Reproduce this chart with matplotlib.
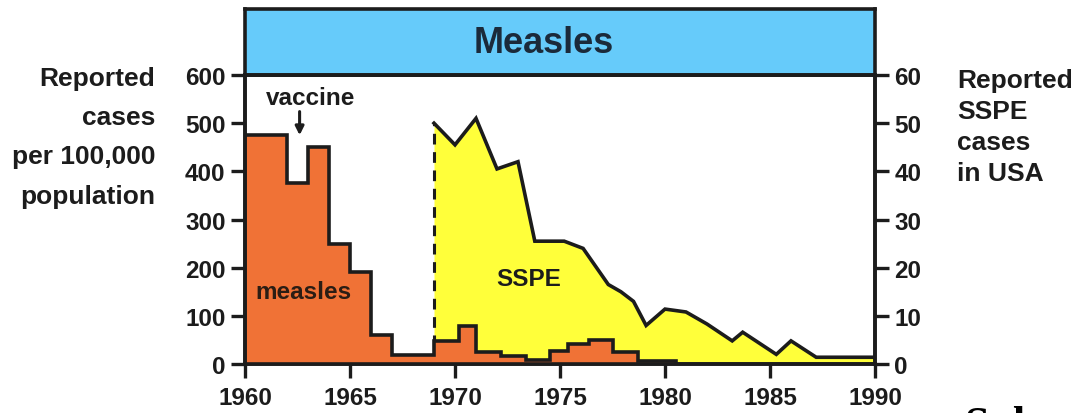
import matplotlib
matplotlib.use("Agg")
import matplotlib.pyplot as plt
import numpy as np

# ---- data ----
measles_edges = [1960, 1962, 1963, 1964, 1965, 1966, 1967, 1969, 1970.2, 1971,
                 1972.2, 1973.4, 1974.5, 1975.4, 1976.4, 1977.5, 1978.7, 1980.5]
measles_values = [475, 375, 450, 250, 192, 60, 18, 48, 78, 25,
                  17, 8, 26, 42, 50, 25, 7]

sspe_years = [1969, 1970, 1971, 1972, 1973, 1973.8, 1975.2, 1976.1, 1977.3, 1977.9,
              1978.5, 1979.1, 1980, 1981, 1982, 1983.2, 1983.7, 1985.3, 1986, 1987.2, 1990]
sspe_values = [50, 45.5, 51, 40.5, 42, 25.5, 25.5, 24, 16.5, 15,
               13, 8, 11.4, 10.8, 8.3, 4.8, 6.6, 2.0, 4.8, 1.4, 1.4]

left_ticks = [0, 100, 200, 300, 400, 500, 600]
right_ticks = [0, 10, 20, 30, 40, 50, 60]
year_ticks = [1960, 1965, 1970, 1975, 1980, 1985, 1990]

ORANGE = "#F07236"
YELLOW = "#FFFF3A"
BLUE = "#66CBFA"
DARK = "#1c1c1c"
FONT = ["Liberation Sans", "DejaVu Sans"]

plt.rcParams["font.family"] = FONT
plt.rcParams["font.weight"] = "bold"

W, H = 1076, 414
fig = plt.figure(figsize=(W / 100, H / 100), dpi=100)

x0, x1 = 245, 875
y_top, y_bot = 76, 365
ax = fig.add_axes([x0 / W, 1 - y_bot / H, (x1 - x0) / W, (y_bot - y_top) / H])
ax2 = ax.twinx()
ax.set_zorder(ax2.get_zorder() + 1)
ax.patch.set_visible(False)
ax2.patch.set_facecolor("white")

ax.set_xlim(1960, 1990)
ax.set_ylim(0, 600)
ax2.set_ylim(0, 60)

# SSPE area (right axis)
ax2.fill_between(sspe_years, sspe_values, 0, color=YELLOW, lw=0, zorder=1)
ax2.plot(sspe_years, sspe_values, color=DARK, lw=2.6, zorder=2, solid_joinstyle="miter")
ax2.plot([sspe_years[0], sspe_years[0]], [0, sspe_values[0]], color=DARK, lw=2.2,
         ls=(0, (3.5, 2.5)), zorder=2)

# measles stairs (left axis)
ax.stairs(measles_values, measles_edges, baseline=0, fill=True, color=ORANGE, zorder=2)
ax.stairs(measles_values, measles_edges, baseline=0, fill=False, color=DARK, lw=2.6, zorder=3)

# annotations
TS = 17.5
ax.text(1963.1, 553, "vaccine", ha="center", va="center", fontsize=TS, color=DARK)
ax.annotate("", xy=(1962.6, 475), xytext=(1962.6, 524),
            arrowprops=dict(arrowstyle="-|>,head_length=0.5,head_width=0.25",
                            color=DARK, lw=2.2, shrinkA=0, shrinkB=0))
ax.text(1962.8, 151, "measles", ha="center", va="center", fontsize=TS, color="#2b1d14")
ax2.text(1973.5, 17.8, "SSPE", ha="center", va="center", fontsize=TS, color=DARK)

# axes styling
for a in (ax, ax2):
    for s in a.spines.values():
        s.set_linewidth(2.6)
        s.set_color(DARK)
ax.set_xticks(year_ticks)
ax.set_xticklabels([str(y) for y in year_ticks])
ax.set_yticks(left_ticks)
ax.set_yticklabels([str(v) for v in left_ticks])
ax2.set_yticks(right_ticks)
ax2.set_yticklabels([str(v) for v in right_ticks])
ax.tick_params(axis="y", direction="out", length=10, width=2.4, color=DARK,
               labelsize=TS, labelcolor=DARK, pad=4)
ax.tick_params(axis="x", direction="out", length=10, width=2.4, color=DARK,
               labelsize=TS, labelcolor=DARK, pad=6)
ax2.tick_params(axis="y", direction="out", length=10, width=2.4, color=DARK,
                labelsize=TS, labelcolor=DARK, pad=4)
for lab in ax.get_xticklabels() + ax.get_yticklabels() + ax2.get_yticklabels():
    lab.set_fontweight("bold")

# header box
hdr = fig.add_axes([x0 / W, 1 - y_top / H, (x1 - x0) / W, (y_top - 10) / H])
hdr.set_facecolor(BLUE)
hdr.set_xticks([])
hdr.set_yticks([])
for s in hdr.spines.values():
    s.set_linewidth(2.6)
    s.set_color(DARK)
hdr.text(0.475, 0.5, "Measles", ha="center", va="center", fontsize=26,
         fontweight="bold", color="#1b2a3a", transform=hdr.transAxes)

# side labels
fig.text(155 / W, 1 - 67 / H, "Reported\ncases\nper 100,000\npopulation", ha="right",
         va="top", fontsize=19, color=DARK, linespacing=1.8)
fig.text(957 / W, 1 - 69 / H, "Reported\nSSPE\ncases\nin USA", ha="left",
         va="top", fontsize=19, color=DARK, linespacing=1.36)

# cut-off text at bottom right
fig.text(965 / W, 1 - 406 / H, "Sub", ha="left", va="top", fontsize=32,
         fontweight="bold", family=["Liberation Serif", "DejaVu Serif"], color="black")

fig.savefig("out.png", dpi=100)
